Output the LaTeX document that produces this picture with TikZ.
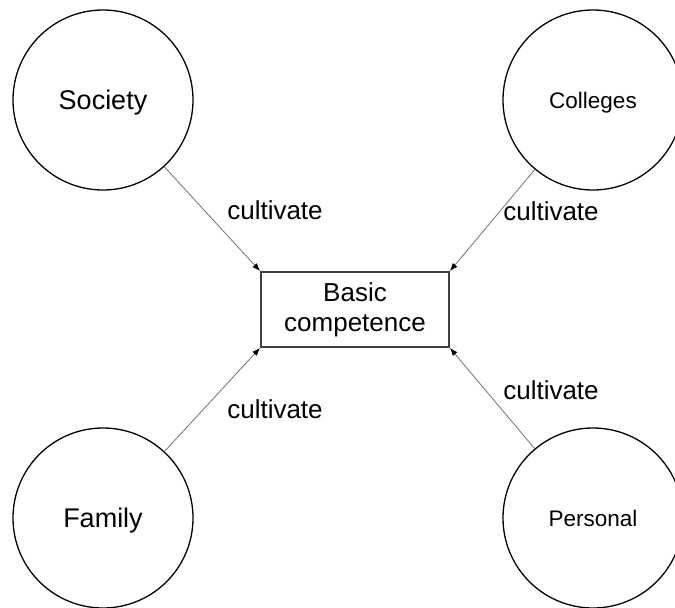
\documentclass[tikz,border=0pt]{standalone}
\usepackage{fontspec}
\setmainfont{Liberation Sans}
\usetikzlibrary{arrows.meta}
\begin{document}
\begin{tikzpicture}[x=1pt,y=-1pt,
  bigcircle/.style={draw=black,line width=1.3pt,circle,minimum size=180pt,inner sep=0pt,text depth=0pt},
  compbox/.style={draw=black!75,line width=1.8pt,minimum width=188pt,minimum height=75pt,inner sep=0pt,align=center,font=\fontsize{26}{30}\selectfont},
  link/.style={draw=black!55,line width=0.8pt,-{Latex[length=8pt,width=6pt,color=black]}},
  lbl/.style={font=\fontsize{26}{30}\selectfont,anchor=base,inner sep=0pt}]
\clip (0,0) rectangle (675,608);
\fill[white] (0,0) rectangle (675,608);
\node[bigcircle,font=\fontsize{27}{30}\selectfont] (soc) at (103,100) {Society};
\node[bigcircle,font=\fontsize{22.5}{26}\selectfont] (col) at (593,100) {Colleges};
\node[bigcircle,font=\fontsize{27}{30}\selectfont] (fam) at (103,518) {Family};
\node[bigcircle,font=\fontsize{22.5}{26}\selectfont] (per) at (593,518) {Personal};
\node[compbox] (box) at (355,309.5) {Basic\\competence};
\draw[link] (soc) -- (box.north west);
\draw[link] (col) -- (box.north east);
\draw[link] (fam) -- (box.south west);
\draw[link] (per) -- (box.south east);
\node[lbl] (l1) at (275,219.5) {cultivate};
\node[lbl] (l2) at (551,220.5) {cultivate};
\node[lbl] (l3) at (275,418) {cultivate};
\node[lbl] (l4) at (551,399.5) {cultivate};
\end{tikzpicture}
\end{document}
